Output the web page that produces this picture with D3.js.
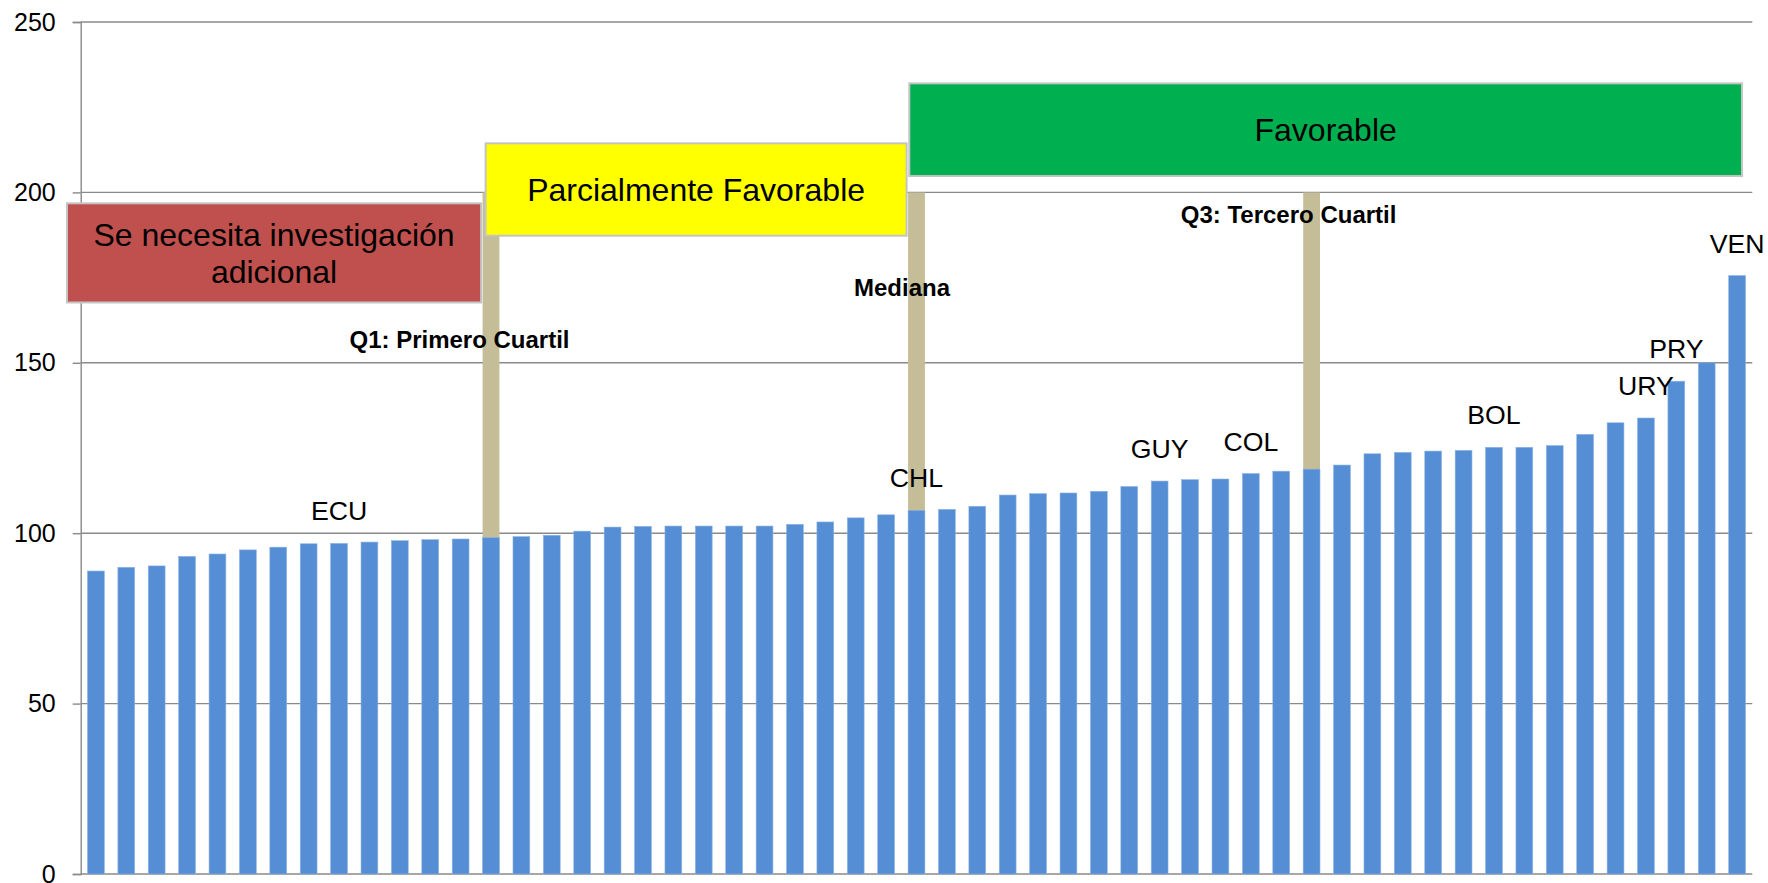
<!DOCTYPE html>
<html>
<head>
<meta charset="utf-8">
<script src="https://cdn.jsdelivr.net/npm/d3@7"></script>
<style>
  html, body { margin: 0; padding: 0; background: #ffffff; }
  svg { display: block; font-family: "Liberation Sans", Arial, sans-serif; }
</style>
</head>
<body>
<svg id="chart" width="1768" height="883"></svg>
<script>
// ---------- data ----------
const values = [88.9, 90.0, 90.4, 93.2, 93.9, 95.1, 95.9, 96.9, 97.0, 97.4,
                97.8, 98.1, 98.3, 98.7, 99.0, 99.4, 100.6, 101.8, 102.0, 102.1,
                102.1, 102.1, 102.1, 102.6, 103.3, 104.5, 105.4, 106.7, 107.0, 107.9,
                111.2, 111.6, 111.8, 112.3, 113.7, 115.3, 115.7, 115.9, 117.5, 118.2,
                118.8, 120.0, 123.3, 123.7, 124.1, 124.3, 125.2, 125.2, 125.7, 129.0,
                132.4, 133.8, 144.6, 150.0, 175.6];
const labelIndex = [8, 27, 35, 38, 46, 51, 52, 54];
const labelText = ["ECU", "CHL", "GUY", "COL", "BOL", "URY", "PRY", "VEN"];
const quartileIndex = [13, 27, 40];
const quartileValue = 200;
const quartileText = ["Q1: Primero Cuartil", "Mediana", "Q3: Tercero Cuartil"];
const zoneText = [["Se necesita investigación", "adicional"], ["Parcialmente Favorable"], ["Favorable"]];
const zoneColor = ["#C0504D", "#FFFF00", "#00B050"];
const yTicks = [0, 50, 100, 150, 200, 250];

// ---------- layout ----------
(function () {
const svg = d3.select("#chart");
const pLeft = 80.7, pRight = 1752.3, pTop = 22, pBottom = 874;
const x = d3.scaleBand().domain(d3.range(values.length)).range([pLeft, pRight])
  .paddingInner(0.447).paddingOuter(0.2235);
const y = d3.scaleLinear().domain([0, 250]).range([pBottom, pTop]);
const bw = x.bandwidth();

// gridlines
svg.append("g").selectAll("line").data(yTicks).join("line")
  .attr("x1", pLeft).attr("x2", pRight)
  .attr("y1", d => y(d)).attr("y2", d => y(d))
  .attr("stroke", "#8a8a8a").attr("stroke-width", 1.4);

// y axis
const yAxis = d3.axisLeft(y).tickValues(yTicks).tickSize(8).tickPadding(17).tickFormat(d3.format("d"));
const ga = svg.append("g").attr("transform", `translate(${pLeft},0)`).call(yAxis);
ga.select(".domain").attr("stroke", "#8a8a8a").attr("stroke-width", 1.4);
ga.selectAll(".tick line").attr("stroke", "#8a8a8a").attr("stroke-width", 1.4);
ga.selectAll(".tick text").attr("font-size", 25).attr("fill", "#000")
  .attr("font-family", '"Liberation Sans", Arial, sans-serif');

// quartile markers (tan columns)
svg.append("g").selectAll("rect").data(quartileIndex).join("rect")
  .attr("x", d => x(d)).attr("width", bw)
  .attr("y", y(quartileValue)).attr("height", y(0) - y(quartileValue))
  .attr("fill", "#C4BD97");

// main bars
svg.append("g").selectAll("rect").data(values).join("rect")
  .attr("x", (d, i) => x(i)).attr("width", bw)
  .attr("y", d => y(d)).attr("height", d => y(0) - y(d))
  .attr("fill", "#558ED5").attr("stroke", "#8DB3E2").attr("stroke-width", 0.6);

// zone boxes
const boxes = [
  {x0: 67, x1: x(quartileIndex[0]) - 1.5, v0: 196.8, v1: 167.7},
  {x0: x(quartileIndex[0]) + 3, x1: x(quartileIndex[1]) - 1.5, v0: 214.4, v1: 187.3},
  {x0: x(quartileIndex[1]) + 1.2, x1: 1742, v0: 232.0, v1: 204.8}
];
const gb = svg.append("g");
boxes.forEach((b, i) => {
  gb.append("rect")
    .attr("x", b.x0).attr("y", y(b.v0))
    .attr("width", b.x1 - b.x0).attr("height", y(b.v1) - y(b.v0))
    .attr("fill", zoneColor[i]).attr("stroke", "#c4c4c4").attr("stroke-width", 2);
  const cx = (b.x0 + b.x1) / 2;
  const cy = (y(b.v0) + y(b.v1)) / 2;
  const lines = zoneText[i];
  const lh = 37.3;
  const t = gb.append("text").attr("text-anchor", "middle").attr("font-size", 32).attr("fill", "#000");
  lines.forEach((ln, k) => {
    t.append("tspan").attr("x", cx)
      .attr("y", cy + 11.5 + (k - (lines.length - 1) / 2) * lh)
      .text(ln);
  });
});

// quartile labels
const qOffset = [-31.5, -14.5, -23];
const qValue = [154.3, 169.6, 191.1];
svg.append("g").selectAll("text").data(quartileIndex).join("text")
  .attr("x", (d, i) => x(d) + bw / 2 + qOffset[i])
  .attr("y", (d, i) => y(qValue[i]))
  .attr("text-anchor", "middle").attr("font-weight", "bold").attr("font-size", 24).attr("fill", "#000")
  .text((d, i) => quartileText[i]);

// country labels
svg.append("g").selectAll("text").data(labelIndex).join("text")
  .attr("x", d => x(d) + bw / 2)
  .attr("y", d => y(values[d]) - 23)
  .attr("text-anchor", "middle").attr("font-size", 26.67).attr("fill", "#000")
  .text((d, i) => labelText[i]);
})();
</script>
</body>
</html>
